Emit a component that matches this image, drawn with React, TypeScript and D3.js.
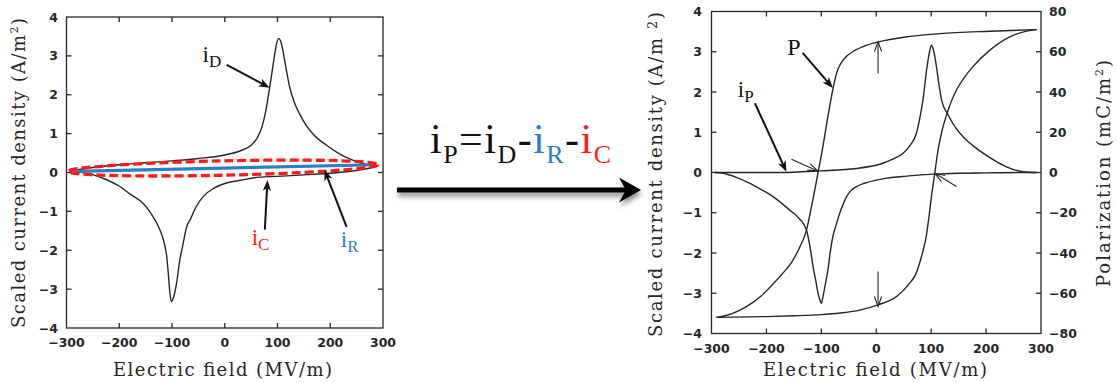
import React from "react";
import * as d3 from "d3";

const W = 1117;
const H = 383;

// ---------- shared axis data ----------
const fieldTicks = [-300, -200, -100, 0, 100, 200, 300];
const currentTicks = [-4, -3, -2, -1, 0, 1, 2, 3, 4];
const polarizationTicks = [-80, -60, -40, -20, 0, 20, 40, 60, 80];

// ---------- left panel: measured current i_D (A/m^2) vs E (MV/m) ----------
// branch swept with increasing field
const iDUpper: [number, number][] = [
  [-288, 0.05], [-250, 0.13], [-200, 0.2], [-150, 0.25], [-100, 0.3], [-50, 0.36],
  [0, 0.45], [30, 0.56], [50, 0.7], [62, 0.9], [70, 1.15], [78, 1.6], [85, 2.17],
  [92, 2.8], [98, 3.3], [102, 3.45], [106, 3.38], [110, 3.15], [116, 2.7], [123, 2.2],
  [132, 1.8], [142, 1.5], [155, 1.2], [170, 0.95], [193, 0.7], [215, 0.5], [240, 0.33],
  [265, 0.22], [290, 0.16],
];
// branch swept with decreasing field (stored in ascending E)
const iDLower: [number, number][] = [
  [-288, 0.05], [-270, 0.0], [-249, -0.06], [-225, -0.18], [-199, -0.36], [-180, -0.55],
  [-155, -0.79], [-140, -1.05], [-123, -1.47], [-116, -1.75], [-110, -2.16], [-107, -2.6],
  [-104, -3.1], [-101, -3.32], [-98, -3.25], [-92, -2.9], [-85, -2.24], [-80, -1.9],
  [-72, -1.39], [-65, -1.2], [-55, -0.9], [-41, -0.62], [-20, -0.4], [3, -0.27],
  [30, -0.2], [66, -0.12], [100, -0.1], [150, -0.06], [200, -0.02], [250, 0.05], [290, 0.16],
];
// resistive current i_R (straight line end points)
const iRLine: [number, number][] = [[-284, 0.03], [288, 0.2]];
// capacitive current i_C envelope: centre E, centre i, half-width E, half-height i
const iCEnvelope = { cE: -3.5, cI: 0.115, halfE: 293.5, halfI: 0.185 };

// ---------- right panel: switching current i_P and polarization P ----------
const iPUpper: [number, number][] = [
  [-294, 0], [-175, 0], [-103, 0.04], [-36, 0.1], [12, 0.23], [30, 0.33], [49, 0.48],
  [62, 0.68], [73, 0.97], [80, 1.4], [85, 1.8], [92.5, 2.63], [97, 3.0], [100.5, 3.16],
  [104, 3.05], [109.6, 2.63], [114, 2.2], [119, 1.8], [131, 1.43], [145, 1.1],
  [158, 0.89], [175, 0.68], [194.5, 0.48], [215, 0.3], [237, 0.14], [267, 0.02], [292, 0],
];
const iPLower: [number, number][] = [
  [-294, 0], [-279, -0.02], [-255, -0.12], [-230, -0.27], [-210, -0.42], [-188, -0.6],
  [-158, -0.93], [-140, -1.15], [-127, -1.43], [-120, -1.9], [-115, -2.34], [-110, -2.7],
  [-106, -3.0], [-103, -3.15], [-100, -3.25], [-97, -3.08], [-93, -2.8], [-88, -2.42],
  [-84, -2.0], [-79, -1.59], [-73, -1.3], [-66.5, -1.01], [-60, -0.78], [-54, -0.6],
  [-46, -0.45], [-36, -0.35], [-20, -0.26], [0, -0.19], [20, -0.14], [55, -0.09],
  [106.5, -0.04], [150, -0.02], [200, -0.01], [267, 0], [292, 0],
];
// polarization (mC/m^2), branch from positive saturation (stored ascending E)
const pUpper: [number, number][] = [
  [-291, -72], [-270, -70.8], [-250, -68.6], [-230, -65.5], [-210, -61.5], [-190, -56],
  [-170, -50], [-155, -45], [-140, -37.5], [-127, -28.6], [-118, -17], [-110, -6],
  [-106, 0], [-100, 8.5], [-94, 18], [-88, 28], [-82, 37], [-77, 44], [-72, 49.5],
  [-65, 54], [-55, 57.5], [-40, 60.5], [-20, 63], [6, 65], [50, 67.2], [116, 69],
  [207, 70.2], [292, 71],
];
// polarization branch from negative saturation
const pLower: [number, number][] = [
  [-291, -72], [-200, -71.6], [-150, -71.2], [-100, -70.6], [-66, -69.8], [-30, -68.4],
  [3, -65.8], [37, -61.6], [61, -55], [72, -50.5], [79, -45], [86, -38], [91, -31.8],
  [96, -22], [100.5, -12], [106.5, -0.4], [112.6, 11.2], [120, 21], [128, 28.6],
  [146, 41], [160, 47], [176, 52.6], [207, 60.8], [243, 67.4], [270, 70], [292, 71],
];

// ---------- annotations (data coordinates) ----------
const leftLabels = [
  { main: "i", sub: "D", color: "#111", at: [-42, 2.85] as [number, number] },
  { main: "i", sub: "C", color: "#ff1a1a", at: [51, -1.86] as [number, number] },
  { main: "i", sub: "R", color: "#2a7fc9", at: [220, -1.91] as [number, number] },
];
const leftArrows = [
  { from: [3.8, 2.77], to: [85, 2.18] },
  { from: [76, -1.47], to: [81, -0.19] },
  { from: [231, -1.4], to: [189, 0.07] },
];
const rightLabels = [
  { main: "P", sub: "", at: [-162, 2.92] as [number, number] },
  { main: "i", sub: "P", at: [-252, 1.88] as [number, number] },
];
const rightBoldArrows = [
  { from: [-134, 2.97], to: [-79, 2.1] },
  { from: [-221, 1.72], to: [-163.6, 0.02] },
];
const rightThinArrows = [
  { from: [-154.5, 0.33], to: [-106.6, 0.04] },
  { from: [3.3, 2.46], to: [3.3, 3.25] },
  { from: [3.3, -2.46], to: [3.3, -3.33] },
  { from: [146, -0.35], to: [106.6, -0.02] },
];

// ---------- scales ----------
const xL = d3.scaleLinear().domain([-300, 300]).range([66.5, 383]);
const yL = d3.scaleLinear().domain([-4, 4]).range([328, 17]);
const xR = d3.scaleLinear().domain([-300, 300]).range([711.5, 1041]);
const yR = d3.scaleLinear().domain([-4, 4]).range([333.5, 11.5]);
const pR = d3.scaleLinear().domain([-80, 80]).range([333.5, 11.5]);

const fmt = d3.format("d");
const INK = "#262626";
const TICKFONT = "'DejaVu Sans', sans-serif";
const TITLEFONT = "'DejaVu Serif', serif";
const NOTEFONT = "'Liberation Serif', 'Times New Roman', serif";

function lineFor(x: any, y: any) {
  return d3
    .line<[number, number]>()
    .x((d) => x(d[0]))
    .y((d) => y(d[1]))
    .curve(d3.curveMonotoneX);
}

function Arrow({ x1, y1, x2, y2, bold }: { x1: number; y1: number; x2: number; y2: number; bold: boolean }) {
  const dx = x2 - x1;
  const dy = y2 - y1;
  const len = Math.hypot(dx, dy);
  const ux = dx / len;
  const uy = dy / len;
  const L = bold ? 11 : 10;
  const w = bold ? 4.2 : 3.6;
  const bx = x2 - ux * L;
  const by = y2 - uy * L;
  const p1 = [bx - uy * w, by + ux * w];
  const p2 = [bx + uy * w, by - ux * w];
  if (bold) {
    return (
      <g>
        <line x1={x1} y1={y1} x2={x2 - ux * 6} y2={y2 - uy * 6} stroke="#111" strokeWidth={2} />
        <path d={`M${x2},${y2}L${p1[0]},${p1[1]}L${x2 - ux * 8},${y2 - uy * 8}L${p2[0]},${p2[1]}Z`} fill="#111" />
      </g>
    );
  }
  return (
    <g fill="none" stroke={INK} strokeWidth={1.1}>
      <line x1={x1} y1={y1} x2={x2} y2={y2} />
      <path d={`M${p1[0]},${p1[1]}L${x2},${y2}L${p2[0]},${p2[1]}`} />
    </g>
  );
}

function Frame({ x, y, rightTicks }: { x: any; y: any; rightTicks: boolean }) {
  const [x0, x1] = x.range();
  const [y0, y1] = y.range(); // y0 bottom, y1 top
  const tl = 5;
  return (
    <g stroke={INK} strokeWidth={1.3} fill="none">
      <rect x={x0} y={y1} width={x1 - x0} height={y0 - y1} />
      {fieldTicks.slice(1, -1).map((t) => (
        <g key={"xt" + t}>
          <line x1={x(t)} x2={x(t)} y1={y0} y2={y0 - tl} />
          <line x1={x(t)} x2={x(t)} y1={y1} y2={y1 + tl} />
        </g>
      ))}
      {currentTicks.slice(1, -1).map((t) => (
        <g key={"yt" + t}>
          <line x1={x0} x2={x0 + tl} y1={y(t)} y2={y(t)} />
          {rightTicks && <line x1={x1} x2={x1 - tl} y1={y(t)} y2={y(t)} />}
        </g>
      ))}
    </g>
  );
}

function Note({ x, y, main, sub, color, size, subSize }: any) {
  return (
    <text x={x} y={y} fontFamily={NOTEFONT} fontSize={size} fill={color}>
      {main}
      {sub && (
        <tspan fontSize={subSize} dy={size * 0.22}>
          {sub}
        </tspan>
      )}
    </text>
  );
}

export default function App() {
  const lL = lineFor(xL, yL);
  const lR = lineFor(xR, yR);
  const lP = lineFor(xR, pR);

  const ellCx = xL(iCEnvelope.cE);
  const ellCy = yL(iCEnvelope.cI);
  const ellRx = xL(iCEnvelope.cE + iCEnvelope.halfE) - ellCx;
  const ellRy = yL(0) - yL(iCEnvelope.halfI);
  const tilt =
    (Math.atan2(yL(iRLine[1][1]) - yL(iRLine[0][1]), xL(iRLine[1][0]) - xL(iRLine[0][0])) * 180) / Math.PI;

  const blue = "#2a7fc9";
  const red = "#ff1a1a";

  return (
    <svg
      width={W}
      height={H}
      viewBox={`0 0 ${W} ${H}`}
      style={{ position: "fixed", left: 0, top: 0, background: "#fff" }}
    >
      <defs>
        <filter id="shadow" x="-10%" y="-60%" width="120%" height="260%">
          <feDropShadow dx="1" dy="4" stdDeviation="2.5" floodColor="#000" floodOpacity="0.45" />
        </filter>
      </defs>
      <rect x={0} y={0} width={W} height={H} fill="#fff" />

      {/* ================= LEFT PANEL ================= */}
      <Frame x={xL} y={yL} rightTicks={true} />
      {fieldTicks.map((t) => (
        <text key={"lx" + t} x={xL(t)} y={yL(-4) + 18.5} textAnchor="middle" fontFamily={TICKFONT}
          fontWeight="bold" fontSize={12.5} fill={INK}>
          {fmt(t)}
        </text>
      ))}
      {currentTicks.map((t) => (
        <text key={"ly" + t} x={58} y={yL(t) + 4.5} textAnchor="end" fontFamily={TICKFONT}
          fontWeight="bold" fontSize={12.5} fill={INK}>
          {fmt(t)}
        </text>
      ))}
      <text x={113} y={376} fontFamily={TITLEFONT} fontSize={18} fill={INK} textLength={219} lengthAdjust="spacing">
        Electric field (MV/m)
      </text>
      <text transform="translate(25,173) rotate(-90)" x={-155} y={0} fontFamily={TITLEFONT} fontSize={18}
        fill={INK} textLength={310} lengthAdjust="spacing">
        Scaled current density (A/m<tspan fontSize={11} dy={-7}>2</tspan>
        <tspan dy={7}>)</tspan>
      </text>

      <path d={lL(iDUpper) || ""} fill="none" stroke={INK} strokeWidth={1.4} />
      <path d={lL(iDLower) || ""} fill="none" stroke={INK} strokeWidth={1.4} />

      <line x1={xL(iRLine[0][0])} y1={yL(iRLine[0][1])} x2={xL(iRLine[1][0])} y2={yL(iRLine[1][1])}
        stroke={blue} strokeWidth={3.2} />
      <ellipse cx={ellCx} cy={ellCy} rx={ellRx} ry={ellRy} fill="none" stroke={red} strokeWidth={3.3}
        strokeDasharray="9 4" transform={`rotate(${tilt} ${ellCx} ${ellCy})`} />

      {leftArrows.map((a, i) => (
        <Arrow key={"la" + i} x1={xL(a.from[0])} y1={yL(a.from[1])} x2={xL(a.to[0])} y2={yL(a.to[1])} bold={true} />
      ))}
      {leftLabels.map((n, i) => (
        <Note key={"ln" + i} x={xL(n.at[0])} y={yL(n.at[1])} main={n.main} sub={n.sub} color={n.color}
          size={23} subSize={17} />
      ))}

      {/* ================= MIDDLE: equation and arrow ================= */}
      <text x={430} y={153} fontFamily={NOTEFONT} fontSize={42} fill="#111" textLength={181} lengthAdjust="spacing">
        i<tspan fontSize={26} dy={10}>P</tspan>
        <tspan dy={-10}>=i</tspan>
        <tspan fontSize={26} dy={10}>D</tspan>
        <tspan dy={-10}>-</tspan>
        <tspan fill={blue}>i</tspan>
        <tspan fill={blue} fontSize={26} dy={10}>R</tspan>
        <tspan dy={-10}>-</tspan>
        <tspan fill={red}>i</tspan>
        <tspan fill={red} fontSize={26} dy={10}>C</tspan>
      </text>
      <g filter="url(#shadow)">
        <line x1={397} y1={190} x2={628} y2={190} stroke="#000" strokeWidth={5} />
        <path d="M641,190 L619,177.5 L626,190 L619,202.5 Z" fill="#000" />
      </g>

      {/* ================= RIGHT PANEL ================= */}
      <Frame x={xR} y={yR} rightTicks={true} />
      {fieldTicks.map((t) => (
        <text key={"rx" + t} x={xR(t)} y={yR(-4) + 19} textAnchor="middle" fontFamily={TICKFONT}
          fontWeight="bold" fontSize={12.5} fill={INK}>
          {fmt(t)}
        </text>
      ))}
      {currentTicks.map((t) => (
        <text key={"ry" + t} x={702} y={yR(t) + 4.5} textAnchor="end" fontFamily={TICKFONT}
          fontWeight="bold" fontSize={12.5} fill={INK}>
          {fmt(t)}
        </text>
      ))}
      {polarizationTicks.map((t) => (
        <text key={"rp" + t} x={1049} y={pR(t) + 4.5} textAnchor="start" fontFamily={TICKFONT}
          fontWeight="bold" fontSize={12.5} fill={INK}>
          {fmt(t)}
        </text>
      ))}
      <text x={763} y={376} fontFamily={TITLEFONT} fontSize={18} fill={INK} textLength={224} lengthAdjust="spacing">
        Electric field (MV/m)
      </text>
      <text transform="translate(662,174.5) rotate(-90)" x={-162.5} y={0} fontFamily={TITLEFONT} fontSize={18}
        fill={INK} textLength={325} lengthAdjust="spacing">
        Scaled current density (A/m <tspan fontSize={13} dy={-5}>2</tspan>
        <tspan dy={5}>)</tspan>
      </text>
      <text transform="translate(1110,173.5) rotate(-90)" x={-113.5} y={0} fontFamily={TITLEFONT} fontSize={18}
        fill={INK} textLength={227} lengthAdjust="spacing">
        Polarization (mC/m<tspan fontSize={11} dy={-7}>2</tspan>
        <tspan dy={7}>)</tspan>
      </text>

      <path d={lP(pUpper) || ""} fill="none" stroke={INK} strokeWidth={1.4} />
      <path d={lP(pLower) || ""} fill="none" stroke={INK} strokeWidth={1.4} />
      <path d={lR(iPUpper) || ""} fill="none" stroke={INK} strokeWidth={1.4} />
      <path d={lR(iPLower) || ""} fill="none" stroke={INK} strokeWidth={1.4} />

      {rightBoldArrows.map((a, i) => (
        <Arrow key={"rb" + i} x1={xR(a.from[0])} y1={yR(a.from[1])} x2={xR(a.to[0])} y2={yR(a.to[1])} bold={true} />
      ))}
      {rightThinArrows.map((a, i) => (
        <Arrow key={"rt" + i} x1={xR(a.from[0])} y1={yR(a.from[1])} x2={xR(a.to[0])} y2={yR(a.to[1])} bold={false} />
      ))}
      {rightLabels.map((n, i) => (
        <Note key={"rn" + i} x={xR(n.at[0])} y={yR(n.at[1])} main={n.main} sub={n.sub} color="#111"
          size={n.sub ? 23 : 24} subSize={17} />
      ))}
    </svg>
  );
}
